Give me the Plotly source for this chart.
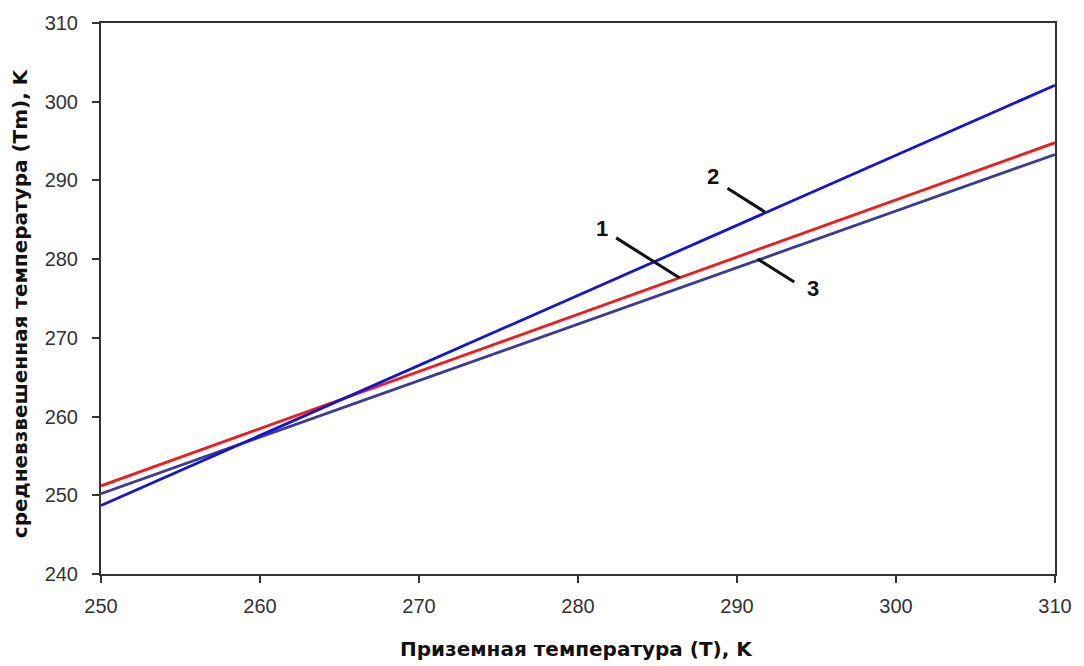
import plotly.graph_objects as go

# Data
x_vals = [250, 310]
series1 = [251.2, 294.8]   # curve 1 (red)
series2 = [248.7, 302.1]   # curve 2 (blue)
series3 = [250.2, 293.3]   # curve 3 (dark slate blue)

x_ticks = [250, 260, 270, 280, 290, 300, 310]
y_ticks = [240, 250, 260, 270, 280, 290, 300, 310]

labels = ["1", "2", "3"]
label_pos = [(281.5, 283.9), (288.5, 290.5), (294.8, 276.3)]
leader_lines = [((282.4, 282.7), (286.4, 277.6)),
                ((289.4, 289.0), (291.75, 286.0)),
                ((291.3, 280.0), (293.6, 277.1))]

x_title = "Приземная температура (T), K"
y_title = "средневзвешенная температура (Tm), K"

fig = go.Figure()
fig.add_trace(go.Scatter(x=x_vals, y=series3, mode="lines",
                         line=dict(color="#3a3a98", width=2.8), showlegend=False))
fig.add_trace(go.Scatter(x=x_vals, y=series1, mode="lines",
                         line=dict(color="#ee1c1c", width=2.8), showlegend=False))
fig.add_trace(go.Scatter(x=x_vals, y=series2, mode="lines",
                         line=dict(color="#1414d2", width=2.8), showlegend=False))

for (a, b) in leader_lines:
    fig.add_shape(type="line", x0=a[0], y0=a[1], x1=b[0], y1=b[1],
                  xref="x", yref="y", line=dict(color="#111111", width=3))

for t, (lx, ly) in zip(labels, label_pos):
    fig.add_annotation(x=lx, y=ly, text="<b>%s</b>" % t, showarrow=False,
                       font=dict(family="Liberation Sans, Arial", size=22, color="#111111"))

title_font = dict(family="DejaVu Sans", size=20, color="#111111")
fig.add_annotation(x=0.498, y=-0.137, xref="paper", yref="paper",
                   text="<b>%s</b>" % x_title, showarrow=False, font=title_font,
                   xanchor="center", yanchor="middle")
fig.add_annotation(x=-0.0846, y=0.492, xref="paper", yref="paper",
                   text="<b>%s</b>" % y_title, showarrow=False, font=title_font,
                   textangle=-90, xanchor="center", yanchor="middle")

axis_common = dict(showgrid=False, zeroline=False, showline=True, linecolor="#333333",
                   linewidth=2, mirror=True, ticks="outside", ticklen=7,
                   tickcolor="#333333", tickwidth=1.5,
                   tickfont=dict(family="Liberation Sans, Arial", size=20, color="#333333"))

fig.update_xaxes(range=[250, 310], tickvals=x_ticks, ticklabelstandoff=6, **axis_common)
fig.update_yaxes(range=[240, 310], tickvals=y_ticks, ticklabelstandoff=10, **axis_common)

fig.update_layout(width=1084, height=666, margin=dict(l=101, r=26, t=21, b=92),
                  plot_bgcolor="white", paper_bgcolor="white")

fig.write_html("out.html")
